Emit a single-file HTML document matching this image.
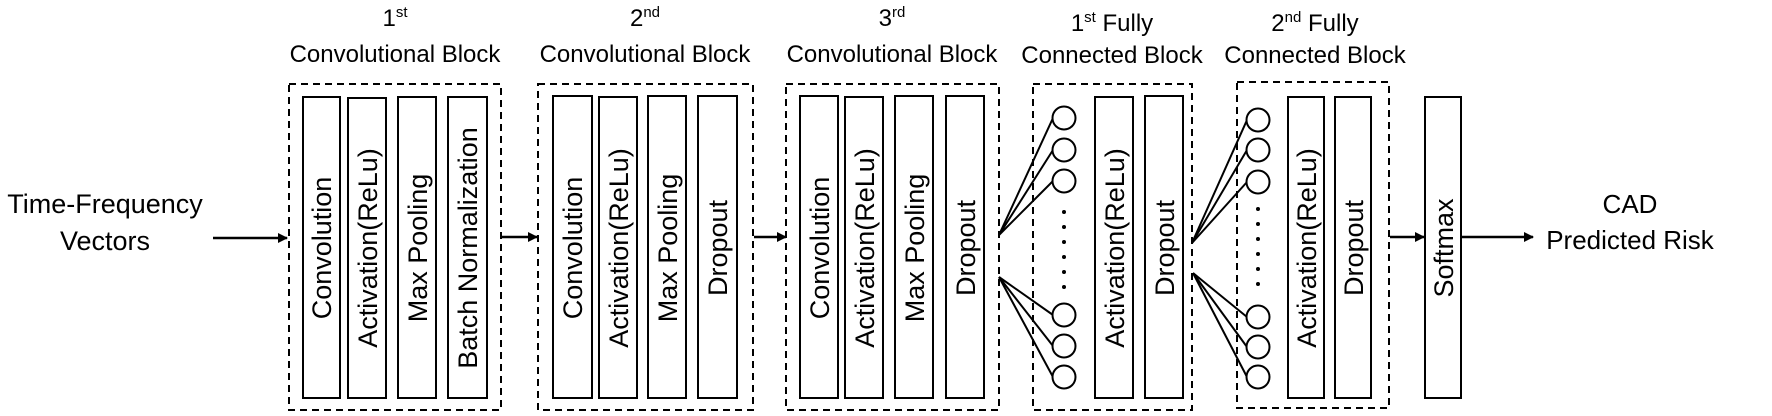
<!DOCTYPE html>
<html><head><meta charset="utf-8"><style>
html,body{margin:0;padding:0;background:#fff;}
svg{display:block;}
text{font-family:"Liberation Sans",sans-serif;fill:#000;}
</style></head><body>
<svg width="1772" height="416" viewBox="0 0 1772 416" xmlns="http://www.w3.org/2000/svg">
<defs><marker id="ah" markerWidth="10" markerHeight="10" refX="9" refY="5" orient="auto" markerUnits="userSpaceOnUse"><path d="M0,0 L10,5 L0,10 z" fill="#000"/></marker></defs>
<g fill="none" stroke="#000" stroke-width="2" stroke-dasharray="7,5">
<rect x="289" y="84" width="212" height="326"/>
<rect x="538" y="84" width="215" height="326"/>
<rect x="786" y="84" width="213" height="326"/>
<rect x="1033" y="84" width="159" height="326"/>
<rect x="1237" y="82" width="152" height="326"/>
</g>
<g fill="#fff" stroke="#000" stroke-width="2">
<rect x="303" y="97" width="37" height="301"/>
<rect x="348" y="98" width="38" height="300"/>
<rect x="398" y="97" width="38" height="301"/>
<rect x="448" y="97" width="39" height="301"/>
<rect x="553" y="96" width="39" height="302"/>
<rect x="599" y="97" width="38" height="301"/>
<rect x="648" y="96" width="38" height="302"/>
<rect x="698" y="96" width="39" height="302"/>
<rect x="800" y="96" width="38" height="302"/>
<rect x="845" y="97" width="38" height="301"/>
<rect x="895" y="96" width="38" height="302"/>
<rect x="946" y="96" width="38" height="302"/>
<rect x="1095" y="97" width="38" height="301"/>
<rect x="1145" y="96" width="38" height="302"/>
<rect x="1288" y="97" width="36" height="301"/>
<rect x="1335" y="97" width="36" height="301"/>
<rect x="1425" y="97" width="36" height="301"/>
</g>
<g stroke="#000" stroke-width="2" fill="none">
<line x1="999" y1="235" x2="1053" y2="118"/><line x1="999" y1="235" x2="1053" y2="150"/><line x1="999" y1="235" x2="1053" y2="181"/>
<line x1="999" y1="277" x2="1053" y2="315"/><line x1="999" y1="277" x2="1053" y2="346"/><line x1="999" y1="277" x2="1053" y2="377"/>
<line x1="1192" y1="243" x2="1247" y2="120"/><line x1="1192" y1="243" x2="1247" y2="150"/><line x1="1192" y1="243" x2="1247" y2="182"/>
<line x1="1193" y1="273" x2="1247" y2="317"/><line x1="1193" y1="273" x2="1247" y2="347"/><line x1="1193" y1="273" x2="1247" y2="377"/>
</g>
<g stroke="#000" stroke-width="2" fill="#fff">
<circle cx="1064" cy="118" r="11.5"/><circle cx="1064" cy="150" r="11.5"/><circle cx="1064" cy="181" r="11.5"/>
<circle cx="1064" cy="315" r="11.5"/><circle cx="1064" cy="346" r="11.5"/><circle cx="1064" cy="377" r="11.5"/>
<circle cx="1258" cy="120" r="11.5"/><circle cx="1258" cy="150" r="11.5"/><circle cx="1258" cy="182" r="11.5"/>
<circle cx="1258" cy="317" r="11.5"/><circle cx="1258" cy="347" r="11.5"/><circle cx="1258" cy="377" r="11.5"/>
</g>
<g fill="#000">
<circle cx="1064" cy="212" r="2"/><circle cx="1064" cy="227" r="2"/><circle cx="1064" cy="242" r="2"/><circle cx="1064" cy="257" r="2"/><circle cx="1064" cy="272" r="2"/><circle cx="1064" cy="287" r="2"/>
<circle cx="1258" cy="209" r="2"/><circle cx="1258" cy="224" r="2"/><circle cx="1258" cy="239" r="2"/><circle cx="1258" cy="254" r="2"/><circle cx="1258" cy="269" r="2"/><circle cx="1258" cy="284" r="2"/>
</g>
<g stroke="#000" stroke-width="2.5" marker-end="url(#ah)">
<line x1="213" y1="238" x2="287" y2="238"/>
<line x1="502" y1="237" x2="537" y2="237"/>
<line x1="754" y1="237" x2="786" y2="237"/>
<line x1="1390" y1="237" x2="1424" y2="237"/>
<line x1="1462" y1="237" x2="1533" y2="237"/>
</g>
<g font-size="27" text-anchor="middle">
<text transform="translate(331,248) rotate(-90)">Convolution</text>
<text transform="translate(377,248) rotate(-90)">Activation(ReLu)</text>
<text transform="translate(427,248) rotate(-90)">Max Pooling</text>
<text transform="translate(477,248) rotate(-90)">Batch Normalization</text>
<text transform="translate(582,248) rotate(-90)">Convolution</text>
<text transform="translate(628,248) rotate(-90)">Activation(ReLu)</text>
<text transform="translate(677,248) rotate(-90)">Max Pooling</text>
<text transform="translate(727,248) rotate(-90)">Dropout</text>
<text transform="translate(829,248) rotate(-90)">Convolution</text>
<text transform="translate(874,248) rotate(-90)">Activation(ReLu)</text>
<text transform="translate(924,248) rotate(-90)">Max Pooling</text>
<text transform="translate(975,248) rotate(-90)">Dropout</text>
<text transform="translate(1124,248) rotate(-90)">Activation(ReLu)</text>
<text transform="translate(1174,248) rotate(-90)">Dropout</text>
<text transform="translate(1316,248) rotate(-90)">Activation(ReLu)</text>
<text transform="translate(1363,248) rotate(-90)">Dropout</text>
<text transform="translate(1453,248) rotate(-90)">Softmax</text>
</g>
<g font-size="24" text-anchor="middle">
<text x="395" y="26">1<tspan font-size="15" dy="-9">st</tspan></text>
<text x="395" y="62">Convolutional Block</text>
<text x="645" y="26">2<tspan font-size="15" dy="-9">nd</tspan></text>
<text x="645" y="62">Convolutional Block</text>
<text x="892" y="26">3<tspan font-size="15" dy="-9">rd</tspan></text>
<text x="892" y="62">Convolutional Block</text>
<text x="1112" y="31">1<tspan font-size="15" dy="-9">st</tspan><tspan dy="9"> Fully</tspan></text>
<text x="1112" y="63">Connected Block</text>
<text x="1315" y="31">2<tspan font-size="15" dy="-9">nd</tspan><tspan dy="9"> Fully</tspan></text>
<text x="1315" y="63">Connected Block</text>
<text x="1630" y="213" font-size="26">CAD</text>
<text x="1630" y="249" font-size="26">Predicted Risk</text>
<text x="105" y="213" font-size="27">Time-Frequency</text>
<text x="105" y="250" font-size="27">Vectors</text>
</g>
</svg>
</body></html>
